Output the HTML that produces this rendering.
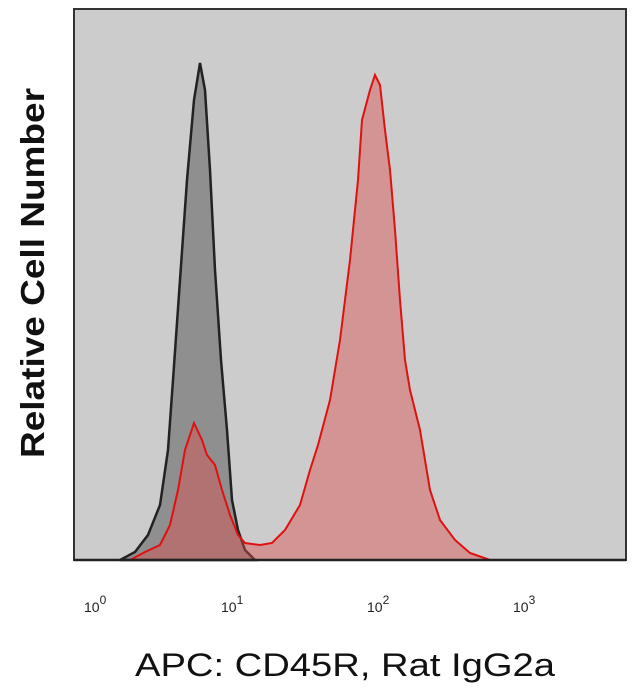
<!DOCTYPE html>
<html><head><style>
html,body{margin:0;padding:0;background:#fff;}
</style></head><body>
<svg width="640" height="692" viewBox="0 0 640 692" xmlns="http://www.w3.org/2000/svg">
<rect x="74" y="9" width="552" height="551" fill="#cccccc" stroke="#333" stroke-width="2"/>
<path d="M120,560 L135,552 L148,535 L160,505 L168,450 L173,380 L180,280 L187,180 L194,100 L200,63 L205,90 L210,170 L215,270 L221,360 L227,430 L232,500 L238,530 L245,550 L255,560 Z" fill="#8f8f8f" stroke="#222" stroke-width="2.5"/>
<path d="M130,560 L145,552 L160,545 L170,525 L178,490 L185,450 L194,423 L202,440 L207,455 L215,465 L222,490 L230,515 L238,535 L245,543 L260,545 L272,543 L285,530 L300,505 L310,470 L318,445 L330,400 L340,340 L350,260 L358,180 L362,120 L366,105 L370,90 L375,75 L380,85 L385,130 L390,170 L395,230 L400,300 L405,360 L410,390 L420,430 L430,490 L440,520 L455,540 L470,553 L490,560 Z" fill="rgba(220,80,80,0.45)" stroke="#e01010" stroke-width="2"/>
<line x1="74" y1="560" x2="626" y2="560" stroke="#222" stroke-width="2.5"/>
<g font-family="Liberation Sans, sans-serif" font-size="14" fill="#222">
<text x="84" y="612">10<tspan dy="-8" font-size="12">0</tspan></text>
<text x="221" y="612">10<tspan dy="-8" font-size="12">1</tspan></text>
<text x="367" y="612">10<tspan dy="-8" font-size="12">2</tspan></text>
<text x="513" y="612">10<tspan dy="-8" font-size="12">3</tspan></text>
</g>
<text x="135" y="676" textLength="420" lengthAdjust="spacingAndGlyphs" font-family="Liberation Sans, sans-serif" font-size="32" fill="#111">APC: CD45R, Rat IgG2a</text>
<text transform="translate(44,458) rotate(-90)" textLength="370" lengthAdjust="spacingAndGlyphs" font-family="Liberation Sans, sans-serif" font-weight="bold" font-size="33" fill="#111">Relative Cell Number</text>
</svg>
</body></html>
